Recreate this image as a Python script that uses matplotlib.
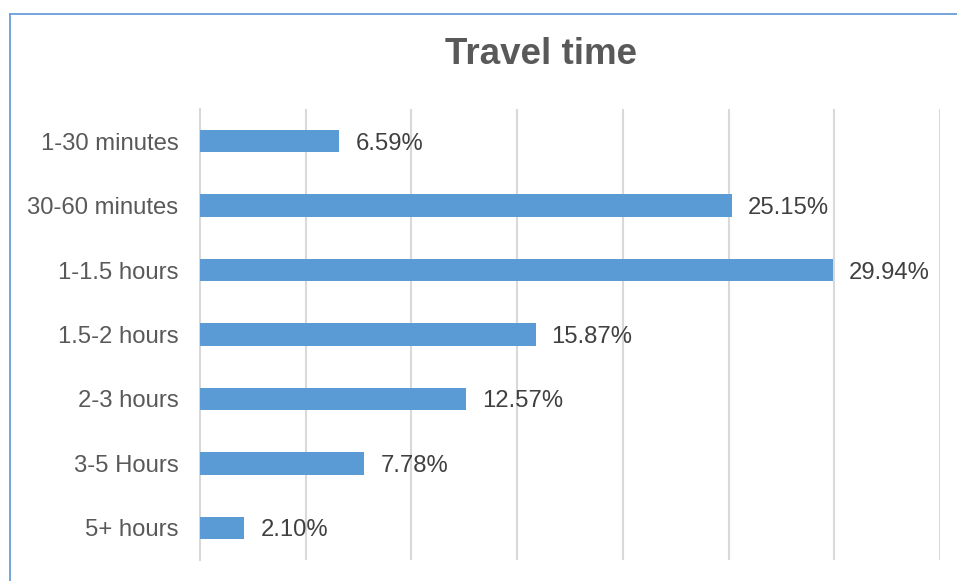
import matplotlib
matplotlib.use("Agg")
import matplotlib.pyplot as plt
from matplotlib.lines import Line2D

categories = ["1-30 minutes", "30-60 minutes", "1-1.5 hours", "1.5-2 hours",
              "2-3 hours", "3-5 Hours", "5+ hours"]
values = [6.59, 25.15, 29.94, 15.87, 12.57, 7.78, 2.10]

plt.rcParams['font.family'] = ['Liberation Sans', 'DejaVu Sans']

W, H = 957, 581
fig = plt.figure(figsize=(W / 100, H / 100), dpi=100)
ax = fig.add_axes([200 / W, 1 - 560 / H, 740 / W, (560 - 109) / H])

y = list(range(len(categories)))
ax.barh(y, values, height=0.35, color="#5B9BD5", zorder=3)
ax.set_ylim(len(categories) - 0.5, -0.5)
ax.set_xlim(0, 35)
ax.set_xticks([5, 10, 15, 20, 25, 30, 35])
ax.set_xticklabels([])
ax.tick_params(axis='x', length=0)
ax.tick_params(axis='y', length=0, pad=15.5, labelsize=17.2, labelcolor="#595959")
ax.set_yticks(y)
ax.set_yticklabels(categories)
for lbl in ax.get_yticklabels():
    lbl.set_va("center_baseline")
ax.grid(axis='x', color="#D9D9D9", linewidth=1.5, zorder=0)
for s in ["top", "right", "bottom"]:
    ax.spines[s].set_visible(False)
ax.spines["left"].set_color("#D9D9D9")
ax.spines["left"].set_linewidth(1.5)

for yi, v in zip(y, values):
    ax.annotate(f"{v:.2f}%", (v, yi), xytext=(11.5, 0), textcoords="offset points",
                va="center_baseline", ha="left", fontsize=17.2, color="#404040")

fig.text(541 / W, 1 - 55 / H, "Travel time", ha="center", va="center",
         fontsize=26.5, fontweight="bold", color="#595959")

# chart border (left and top edges visible)
fig.add_artist(Line2D([9.5 / W, 9.5 / W], [0, 1 - 13.5 / H], transform=fig.transFigure,
                      color="#6A9FD8", linewidth=1.3))
fig.add_artist(Line2D([9.5 / W, 1], [1 - 13.5 / H, 1 - 13.5 / H], transform=fig.transFigure,
                      color="#6A9FD8", linewidth=1.3))

fig.savefig("out.png", dpi=100)
